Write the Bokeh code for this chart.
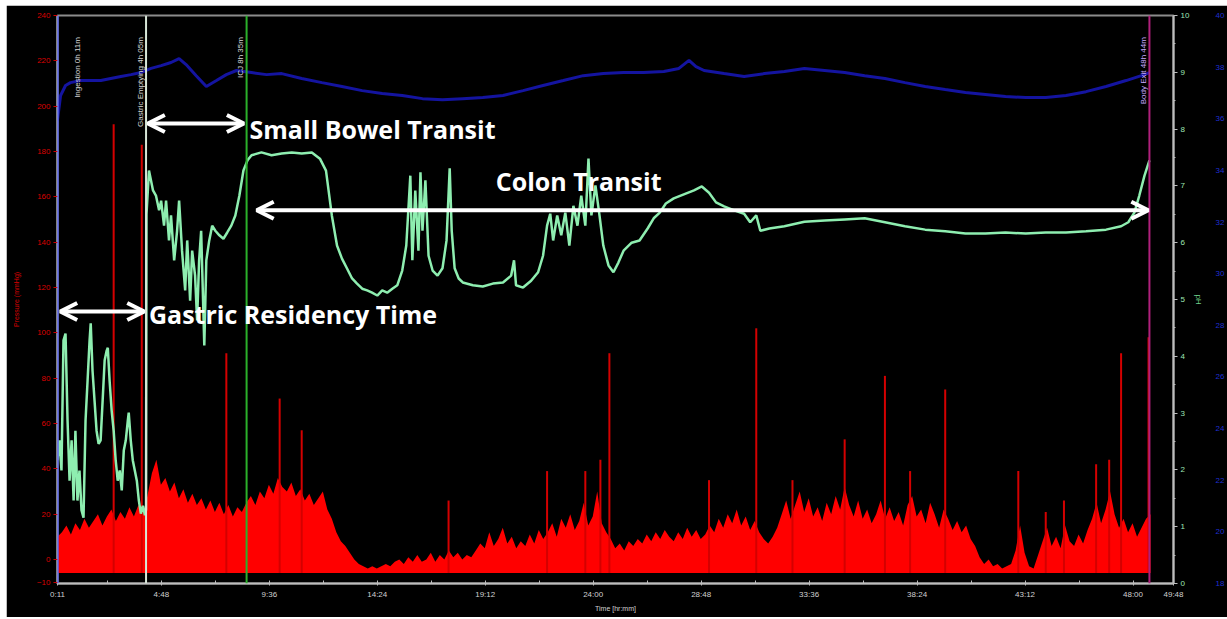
import math
from bokeh.plotting import figure
from bokeh.models import Range1d, LinearAxis, FixedTicker, Span, Label, Arrow, OpenHead
from bokeh.embed import file_html
from bokeh.resources import INLINE

# ---------------- data ----------------
# time axis (hours)
TIME_TICKS_H = [0.1833, 4.8, 9.6, 14.4, 19.2, 24.0, 28.8, 33.6, 38.4, 43.2, 48.0, 49.8]
TIME_TICK_LABELS = ["0:11", "4:48", "9:36", "14:24", "19:12", "24:00", "28:48", "33:36",
                    "38:24", "43:12", "48:00", "49:48"]
TIME_MINOR_H = [2.4, 7.2, 12.0, 16.8, 21.6, 26.4, 31.2, 36.0, 40.8, 45.6]

PRESSURE_TICKS = [-10, 0, 20, 40, 60, 80, 100, 120, 140, 160, 180, 200, 220, 240]
PH_TICKS = [0, 1, 2, 3, 4, 5, 6, 7, 8, 9, 10]
PH_MINOR = [0.5, 1.5, 2.5, 3.5, 4.5, 5.5, 6.5, 7.5, 8.5, 9.5]
TEMP_TICKS = [18, 20, 22, 24, 26, 28, 30, 32, 34, 36, 38, 40]

# capsule events
EVENT_HOURS = [0.1833, 4.12, 8.59, 48.73]
EVENT_LABELS = ["Ingestion 0h 11m", "Gastric Emptying 4h 05m", "ICJ 8h 35m", "Body Exit 48h 44m"]

# pH (right axis)
PH_TIME_H = [
    0.18, 0.27, 0.36, 0.45, 0.54, 0.63, 0.72, 0.81, 0.90, 0.98, 1.07, 1.16, 1.25, 1.34, 1.43,
    1.52, 1.61, 1.66, 1.74, 1.83, 1.92, 2.01, 2.10, 2.19, 2.28, 2.37, 2.42, 2.50, 2.59, 2.68,
    2.77, 2.86, 2.95, 3.04, 3.13, 3.22, 3.31, 3.35, 3.44, 3.53, 3.62, 3.71, 3.80, 3.89, 3.98,
    4.07, 4.12, 4.14,
    4.25, 4.43, 4.56, 4.70, 4.79, 4.92, 5.01, 5.14, 5.23, 5.37, 5.50, 5.59, 5.72, 5.86, 5.95,
    6.08, 6.17, 6.30, 6.39, 6.48, 6.57, 6.71, 6.80, 6.93, 7.06, 7.20, 7.38, 7.56, 7.73, 7.91,
    8.09, 8.27, 8.45, 8.63,
    8.81, 9.25, 9.70, 10.15, 10.60, 11.04, 11.49, 11.85, 12.12, 12.38,
    12.61, 12.83, 13.05, 13.28, 13.50, 13.73, 13.95, 14.17, 14.40, 14.62,
    14.84, 15.07, 15.29, 15.51, 15.69, 15.87, 15.96, 16.09, 16.23, 16.32,
    16.41, 16.54, 16.68, 16.86, 17.08, 17.30, 17.48, 17.62, 17.71, 17.84,
    18.02, 18.20, 18.65, 19.09, 19.54, 19.99, 20.35, 20.48, 20.57, 20.88,
    21.24, 21.55, 21.77, 21.95, 22.09, 22.22, 22.40, 22.58, 22.76, 22.94,
    23.12, 23.30, 23.47, 23.65, 23.79, 23.92, 24.10, 24.28, 24.45, 24.68,
    24.90, 25.12, 25.35, 25.71, 26.06, 26.42, 26.69, 26.96, 27.23, 27.58,
    28.03, 28.48, 28.83, 29.15, 29.46, 29.82, 30.27, 30.71, 30.98, 31.25,
    31.43, 31.83, 32.50, 33.39, 34.29, 35.18, 36.07, 36.97, 37.86, 38.76,
    39.65, 40.55, 41.44, 42.33, 43.23, 44.12, 45.02, 45.91, 46.80, 47.47,
    47.79, 48.06, 48.28, 48.51, 48.73]
PH_VALUE = [
    2.17, 2.52, 1.99, 4.28, 4.40, 2.87, 1.81, 2.52, 1.46, 2.69, 1.46, 1.99, 1.29, 1.16, 2.87,
    3.57, 4.28, 4.58, 3.75, 3.22, 2.69, 2.46, 2.52, 3.22, 3.93, 4.10, 4.15, 3.57, 3.05, 2.69,
    2.17, 1.81, 1.99, 1.64, 2.34, 2.52, 2.87, 3.01, 2.52, 2.17, 1.99, 1.81, 1.46, 1.23, 1.37,
    1.20, 1.30, 6.50,
    7.27, 6.92, 6.83, 6.57, 6.74, 6.30, 6.74, 6.04, 6.48, 5.69, 6.21, 6.74, 5.86, 5.16, 6.04,
    4.98, 5.86, 5.42, 4.63, 5.69, 6.21, 4.19, 5.69, 6.04, 6.30, 6.21, 6.13, 6.07, 6.18, 6.30,
    6.48, 6.83, 7.27, 7.45,
    7.54, 7.59, 7.54, 7.57, 7.59, 7.57, 7.59, 7.48, 7.27, 6.48,
    5.95, 5.72, 5.55, 5.37, 5.28, 5.19, 5.16, 5.12, 5.07, 5.16,
    5.12, 5.19, 5.25, 5.51, 5.95, 7.18, 5.69, 6.92, 5.86, 7.24,
    6.21, 7.10, 5.77, 5.51, 5.42, 5.55, 6.04, 7.31, 6.21, 5.55,
    5.37, 5.30, 5.25, 5.23, 5.28, 5.30, 5.42, 5.69, 5.25, 5.21,
    5.33, 5.48, 5.77, 6.30, 6.51, 6.04, 6.48, 6.13, 6.53, 5.95,
    6.65, 6.30, 6.83, 6.30, 7.48, 6.48, 7.01, 6.48, 5.95, 5.60,
    5.48, 5.65, 5.86, 6.00, 6.04, 6.25, 6.43, 6.53, 6.69, 6.78,
    6.85, 6.92, 6.99, 6.88, 6.71, 6.64, 6.57, 6.51, 6.36, 6.48,
    6.21, 6.25, 6.29, 6.37, 6.39, 6.41, 6.43, 6.36, 6.29, 6.23,
    6.20, 6.16, 6.16, 6.18, 6.16, 6.18, 6.18, 6.20, 6.23, 6.29,
    6.36, 6.53, 6.83, 7.18, 7.45]

# temperature (blue, far-right axis)
TEMP_TIME_H = [
    0.18, 0.32, 0.54, 0.76, 1.21, 1.66, 2.11, 2.55, 3.00, 3.45, 3.89, 4.34, 4.79, 5.23, 5.59,
    5.90, 6.35, 6.80, 7.25, 7.69, 8.14, 8.81, 9.48, 10.15, 11.04, 11.94, 12.83, 13.73, 14.62,
    15.51, 16.41, 17.30, 18.20, 19.09, 19.99, 20.88, 21.77, 22.67, 23.56, 24.45, 25.35, 26.24,
    27.14, 27.81, 28.26, 28.57, 28.93, 29.82, 30.71, 31.61, 32.50, 33.39, 34.29, 35.18, 36.07,
    36.97, 37.86, 38.76, 39.65, 40.55, 41.44, 42.33, 43.23, 44.12, 45.02, 45.91, 46.80, 47.69,
    48.37, 48.73]
TEMP_VALUE = [
    35.93, 36.90, 37.29, 37.40, 37.48, 37.48, 37.48, 37.56, 37.64, 37.71, 37.79, 37.95, 38.06,
    38.18, 38.33, 38.10, 37.67, 37.25, 37.48, 37.71, 37.87, 37.79, 37.71, 37.75, 37.56, 37.40,
    37.25, 37.09, 36.98, 36.90, 36.78, 36.74, 36.78, 36.82, 36.90, 37.09, 37.29, 37.48, 37.67,
    37.75, 37.79, 37.79, 37.83, 37.95, 38.26, 38.02, 37.87, 37.75, 37.64, 37.75, 37.83, 37.95,
    37.87, 37.79, 37.67, 37.56, 37.40, 37.25, 37.13, 37.02, 36.94, 36.86, 36.82, 36.82, 36.90,
    37.05, 37.25, 37.48, 37.67, 37.79]

# pressure (left axis), one reading every 0.2 h starting at ingestion
PRESSURE_START_H = 0.18
PRESSURE_STEP_H = 0.2
PRESSURE_MMHG = [
    10, 12, 15, 11, 16, 13, 18, 14, 17, 20, 15, 19, 22, 17, 21, 18, 23, 19, 24, 20,
    28, 38, 44, 33, 36, 30, 34, 27, 31, 25, 29, 24, 27, 22, 26, 21, 25, 20, 24, 19, 23, 21, 25,
    28, 24, 30, 27, 33, 29, 36, 32, 30, 34, 28, 31, 26, 29, 24, 27, 30, 22, 18,
    12, 8, 6, 3, 0, -2, -3, -4, -3, -4, -3, -2, -3, -1, 0, -2, 1, -1, 2, -1,
    0, 3, -1, 2, 0, 4, 1, 3, 0, 2, 1,
    4, 7, 5, 12, 6, 9, 14, 7, 10, 5, 8, 6, 11, 7, 13, 9,
    12, 16, 10, 18, 14, 20, 13, 17, 25, 15, 19, 30, 16, 12, 9,
    5, 7, 4, 8, 6, 9, 7, 11, 8, 12, 9, 13, 10, 8, 12, 9, 14, 10, 13, 9,
    11, 15, 12, 18, 14, 20, 16, 22, 15, 19, 13, 17, 12, 9, 7, 10,
    14, 20, 26, 18, 24, 30, 21, 27, 19, 23, 17, 25, 20, 28, 22, 32, 24, 19, 26, 18, 22, 16,
    20, 26, 18, 23, 17, 21, 15, 24, 28, 19, 22, 16, 25, 20, 14, 22, 18, 13, 17, 12, 15, 9, 6,
    1, -2, 0, -3, -2, -4, -3, -2, 4,
    15, 3, -3, -4, 2, 8, 14, 6, 10, 5, 15, 8, 6, 11, 7, 13, 18, 25, 16, 22, 30, 20, 14, 18,
    12, 16, 10, 14, 18, 20]
PRESSURE_FLOOR = -6

# isolated tall pressure peaks
PEAK_TIME_H = [2.68, 3.93, 7.69, 10.06, 11.04, 17.57, 21.95, 23.65, 24.32, 24.72, 29.15, 31.25,
               32.86, 35.18, 36.97, 38.09, 39.65, 42.90, 44.12, 44.93, 46.36, 46.94, 47.47, 48.69]
PEAK_MMHG = [192, 183, 91, 71, 57, 26, 39, 39, 44, 91, 35, 102,
             35, 53, 81, 39, 75, 39, 21, 26, 42, 44, 91, 98]

# ---------------- figure ----------------
FONT = "Liberation Sans"
p = figure(width=1221, height=612, x_range=Range1d(TIME_TICKS_H[0], TIME_TICKS_H[-1]),
           y_range=Range1d(-10.6, 240), output_backend="svg", toolbar_location=None,
           background_fill_color="black", border_fill_color="black",
           outline_line_color="#8c8c8c", outline_line_width=2,
           min_border_left=51, min_border_right=54, min_border_top=10, min_border_bottom=34,
           margin=(5, 0, 0, 6))
p.grid.visible = False
p.extra_y_ranges = {"ph": Range1d(0, 10), "temp": Range1d(TEMP_TICKS[0], TEMP_TICKS[-1])}

# x axis
xa = p.xaxis[0]
xa.ticker = FixedTicker(ticks=TIME_TICKS_H, minor_ticks=TIME_MINOR_H)
xa.major_label_overrides = dict(zip(TIME_TICKS_H, TIME_TICK_LABELS))
xa.axis_label = "Time [hr:mm]"
xa.axis_line_color = "#bdbdbd"
xa.axis_line_width = 2
xa.major_tick_line_color = "#bdbdbd"
xa.minor_tick_line_color = "#bdbdbd"
xa.major_tick_in = 3
xa.major_tick_out = 2
xa.minor_tick_in = 3
xa.minor_tick_out = 0
xa.major_label_standoff = 4
xa.major_label_text_color = "#d0d0d0"
xa.major_label_text_font = FONT
xa.major_label_text_font_size = "8px"
xa.axis_label_text_color = "#d0d0d0"
xa.axis_label_text_font = FONT
xa.axis_label_text_font_size = "7px"
xa.axis_label_text_font_style = "normal"
xa.axis_label_standoff = 3

# left pressure axis
ya = p.yaxis[0]
ya.ticker = FixedTicker(ticks=PRESSURE_TICKS)
ya.axis_label = "Pressure (mmHg)"
ya.axis_line_color = "#bdbdbd"
ya.axis_line_width = 2
ya.major_tick_line_color = "#cc0000"
ya.major_tick_out = 4
ya.major_tick_in = 0
ya.minor_tick_line_color = None
ya.major_label_standoff = 3
ya.major_label_text_color = "#dd0000"
ya.major_label_text_font = FONT
ya.major_label_text_font_size = "8px"
ya.axis_label_text_color = "#dd0000"
ya.axis_label_text_font = FONT
ya.axis_label_text_font_size = "7px"
ya.axis_label_text_font_style = "normal"
ya.axis_label_standoff = 14

# right pH axis
pha = LinearAxis(y_range_name="ph", ticker=FixedTicker(ticks=PH_TICKS, minor_ticks=PH_MINOR),
                 axis_label="pH")
pha.axis_line_color = "#bdbdbd"
pha.axis_line_width = 2
pha.major_tick_line_color = "#bdbdbd"
pha.minor_tick_line_color = "#bdbdbd"
pha.major_tick_out = 4
pha.major_tick_in = 0
pha.minor_tick_out = 2
pha.minor_tick_in = 0
pha.major_label_standoff = 3
pha.major_label_text_color = "#9fe6b4"
pha.major_label_text_font = FONT
pha.major_label_text_font_size = "8px"
pha.axis_label_text_color = "#6fd08a"
pha.axis_label_text_font = FONT
pha.axis_label_text_font_size = "8px"
pha.axis_label_text_font_style = "normal"
pha.axis_label_standoff = 2
p.add_layout(pha, "right")

# far-right temperature axis (labels only)
ta = LinearAxis(y_range_name="temp", ticker=FixedTicker(ticks=TEMP_TICKS))
ta.axis_line_color = None
ta.major_tick_line_color = None
ta.minor_tick_line_color = None
ta.major_tick_out = 0
ta.major_tick_in = 0
ta.minor_tick_out = 0
ta.minor_tick_in = 0
ta.major_label_standoff = 9
ta.axis_label_standoff = 0
ta.major_label_text_color = "#1f2fd0"
ta.major_label_text_font = FONT
ta.major_label_text_font_size = "8px"
p.add_layout(ta, "right")

# pressure
pressure_time = [PRESSURE_START_H + i * PRESSURE_STEP_H for i in range(len(PRESSURE_MMHG))]
p.varea(x=pressure_time, y1=PRESSURE_FLOOR, y2=PRESSURE_MMHG, fill_color="#ff0000")
p.segment(x0=PEAK_TIME_H, y0=[PRESSURE_FLOOR] * len(PEAK_TIME_H), x1=PEAK_TIME_H, y1=PEAK_MMHG,
          line_color="#d40000", line_width=2)

# event marker lines
EVENT_COLORS = ["#2a3cff", "#d8e6d8", "#2bb02b", "#b0207c"]
for t, c in zip(EVENT_HOURS, EVENT_COLORS):
    p.add_layout(Span(location=t, dimension="height", line_color=c, line_width=2))

# pH and temperature traces
p.line(PH_TIME_H, PH_VALUE, y_range_name="ph", line_color="#8eeeb0", line_width=2.5)
p.line(TEMP_TIME_H, TEMP_VALUE, y_range_name="temp", line_color="#1414a0", line_width=3)

# vertical event labels
EVENT_TEXT_COLORS = ["#d8d8d8", "#d8d8d8", "#d8d8d8", "#c8a8ff"]
EVENT_TEXT_OFFSETS = [20, -6, -6, -6]
for t, txt, c, off in zip(EVENT_HOURS, EVENT_LABELS, EVENT_TEXT_COLORS, EVENT_TEXT_OFFSETS):
    p.add_layout(Label(x=t, y=9.62, y_range_name="ph", text=txt, angle=math.pi / 2,
                       text_align="right", text_baseline="middle", x_offset=off,
                       text_color=c, text_font=FONT, text_font_size="8px"))

# transit arrows and captions
ARROW_W = 4


def double_arrow(x0, x1, y):
    p.add_layout(Arrow(start=OpenHead(line_color="white", line_width=ARROW_W, size=17),
                       end=OpenHead(line_color="white", line_width=ARROW_W, size=17),
                       x_start=x0, y_start=y, x_end=x1, y_end=y, y_range_name="ph",
                       line_color="white", line_width=ARROW_W))


ing, gas, icj, ext = EVENT_HOURS
double_arrow(ing + 0.12, gas - 0.08, 4.79)
double_arrow(gas + 0.08, icj - 0.12, 8.10)
double_arrow(icj + 0.45, ext - 0.05, 6.57)


def caption(x, y, txt):
    p.add_layout(Label(x=x, y=y, y_range_name="ph", text=txt, text_color="white",
                       text_font="Open Sans", text_font_style="bold", text_font_size="25px",
                       text_baseline="middle", text_align="left"))


caption(icj + 0.13, 8.0, "Small Bowel Transit")
caption(19.67, 7.08, "Colon Transit")
caption(gas + 0.13, 4.75, "Gastric Residency Time")

open("out.html", "w").write(file_html(p, INLINE))
